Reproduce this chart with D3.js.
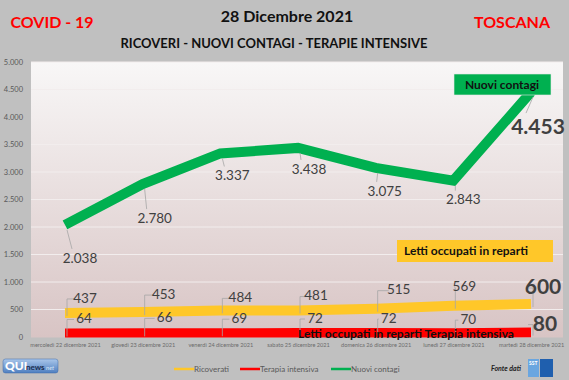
<!DOCTYPE html>
<html><head><meta charset="utf-8">
<script src="https://cdn.jsdelivr.net/npm/d3@7"></script>
<style>
html,body{margin:0;padding:0;background:#c0c0c0;}
svg{display:block;font-family:Lato,"Open Sans",sans-serif;}
</style></head>
<body><svg id="c" width="569" height="380"></svg>
<script>
const categories = ["mercoledì 22 dicembre 2021","giovedì 23 dicembre 2021","venerdì 24 dicembre 2021","sabato 25 dicembre 2021","domenica 26 dicembre 2021","lunedì 27 dicembre 2021","martedì 28 dicembre 2021"];
const ricoverati = [437,453,484,481,515,569,600];
const terapia = [64,66,69,72,72,70,80];
const contagi = [2038,2780,3337,3438,3075,2843,4453];
const yTicks = [0,500,1000,1500,2000,2500,3000,3500,4000,4500,5000];
const legendNames = ["Ricoverati","Terapia intensiva","Nuovi contagi"];

// label layout offsets (dx, dy) from each point
const contagiOff = [[15,33],[12,34],[12,22],[11,21],[9,23],[10,19],[7,35]];
const ricovOff = [[20,-15],[21,-18],[20,-13],[18,-15],[23,-19],[11,-19],[12,-17]];
const terapiaOff = [[19,-15],[22,-16],[19,-15],[17,-15],[13,-15],[15,-14],[14,-9]];

const svg = d3.select("#c");
const W=569,H=380;
const plot = {l:31,t:62,r:563,b:337.5};
const x = d3.scalePoint().domain(categories).range([65,531]);
const y = d3.scaleLinear().domain([0,5000]).range([337,62]);
const fmt = v => d3.format(",")(v).replace(/,/g,".");

const defs = svg.append("defs");
const g = defs.append("linearGradient").attr("id","bg").attr("x1",0).attr("y1",0).attr("x2",0).attr("y2",1);
g.append("stop").attr("offset","0%").attr("stop-color","#f8f7f7");
g.append("stop").attr("offset","100%").attr("stop-color","#d8c4c4");
defs.append("clipPath").attr("id","clip").append("rect").attr("x",plot.l).attr("y",plot.t).attr("width",plot.r-plot.l).attr("height",plot.b-plot.t);
const lg = defs.append("linearGradient").attr("id","logo").attr("x1",0).attr("y1",0).attr("x2",0).attr("y2",1);
lg.append("stop").attr("offset","0%").attr("stop-color","#a9c6ea");
lg.append("stop").attr("offset","100%").attr("stop-color","#4f7fc0");

svg.append("rect").attr("width",W).attr("height",H).attr("fill","#c0c0c0");
svg.append("rect").attr("x",plot.l).attr("y",plot.t).attr("width",plot.r-plot.l).attr("height",plot.b-plot.t).attr("fill","url(#bg)");

// gridlines
svg.append("g").selectAll("line").data(yTicks.slice(1)).join("line")
  .attr("x1",plot.l).attr("x2",plot.r).attr("y1",d=>y(d)).attr("y2",d=>y(d))
  .attr("stroke","#f2eded").attr("stroke-width",1);

// y axis
const ya = svg.append("g").attr("transform","translate(23,0)")
  .call(d3.axisLeft(y).tickValues(yTicks).tickFormat(fmt).tickSize(0).tickPadding(0));
ya.select(".domain").remove();
ya.selectAll("text").attr("fill","#595959").attr("font-size","7.5px").attr("font-family","Lato,sans-serif");

// x axis
const xa = svg.append("g").attr("transform","translate(0,344)")
  .call(d3.axisBottom(x).tickSize(0).tickPadding(0));
xa.select(".domain").remove();
xa.selectAll("text").attr("fill","#6b6b6b").attr("font-size","5.6px").attr("font-family","Lato,sans-serif").attr("dy","0.5em");

// titles
svg.append("text").attr("x",52).attr("y",28).attr("text-anchor","middle").attr("fill","#ff0000").attr("font-weight","bold").attr("font-size","16px").text("COVID - 19");
svg.append("text").attr("x",287).attr("y",22).attr("text-anchor","middle").attr("fill","#111").attr("font-weight","bold").attr("font-size","16px").text("28 Dicembre 2021");
svg.append("text").attr("x",512).attr("y",28).attr("text-anchor","middle").attr("fill","#ff0000").attr("font-weight","bold").attr("font-size","16px").text("TOSCANA");
svg.append("text").attr("x",274).attr("y",48).attr("text-anchor","middle").attr("fill","#111").attr("font-weight","bold").attr("font-size","13px").text("RICOVERI - NUOVI CONTAGI - TERAPIE INTENSIVE");

const line = d3.line().x((d,i)=>x(categories[i])).y(d=>y(d));
const series = [
  {vals:ricoverati,color:"#ffc729",off:ricovOff,kind:"up"},
  {vals:terapia,color:"#ff0000",off:terapiaOff,kind:"up"},
  {vals:contagi,color:"#00b050",off:contagiOff,kind:"down"}
];
const lines = svg.append("g").attr("clip-path","url(#clip)");
series.forEach(s=>{
  lines.append("path").datum(s.vals).attr("d",line).attr("fill","none")
    .attr("stroke",s.color).attr("stroke-width",10).attr("stroke-linejoin","miter").attr("stroke-linecap","butt");
});

// data labels with leader lines
const labG = svg.append("g");
series.forEach(s=>{
  s.vals.forEach((v,i)=>{
    const px=x(categories[i]), py=y(v);
    const [dx,dy]=s.off[i];
    const last = i===s.vals.length-1;
    const lx=px+dx, ly=py+dy;
    let d;
    if (s.kind==="down") {
      d = `M${px+2},${py+5}L${lx-(last?12:8)},${ly-(last?14:9)}`;
    } else {
      const hx = lx-(last?17:10);
      d = `M${px+2},${py+3}L${px+2},${ly+1}L${hx},${ly+1}`;
    }
    labG.append("path").attr("d",d).attr("stroke","#a6a6a6").attr("stroke-width",0.8).attr("fill","none");
    labG.append("text").attr("x",lx).attr("y",ly).attr("dy","0.35em").attr("text-anchor","middle")
      .attr("fill","#404040").attr("font-size",last?"21px":"13.5px").attr("font-weight",last?"bold":"normal")
      .text(fmt(v));
  });
});

// annotation boxes
svg.append("rect").attr("x",454).attr("y",74).attr("width",97).attr("height",21).attr("fill","#00b050").attr("stroke","#e6e6e6").attr("stroke-width",0.6);
svg.append("text").attr("x",502).attr("y",85).attr("dy","0.35em").attr("text-anchor","middle").attr("font-weight","bold").attr("font-size","12px").attr("fill","#111").text("Nuovi contagi");
svg.append("rect").attr("x",397).attr("y",240).attr("width",156).attr("height",22).attr("fill","#ffc729");
svg.append("text").attr("x",404).attr("y",251).attr("dy","0.35em").attr("font-weight","bold").attr("font-size","12px").attr("fill","#111").text("Letti occupati in reparti");
svg.append("text").attr("x",406).attr("y",333.5).attr("dy","0.35em").attr("text-anchor","middle").attr("font-weight","bold").attr("font-size","12px").attr("fill","#111").text("Letti occupati in reparti Terapia intensiva");

// legend
const legX=[174,240,331];
legendNames.forEach((n,i)=>{
  svg.append("line").attr("x1",legX[i]).attr("x2",legX[i]+20).attr("y1",369).attr("y2",369).attr("stroke",series[i].color).attr("stroke-width",2.5);
  svg.append("text").attr("x",legX[i]+20).attr("y",369).attr("dy","0.35em").attr("font-size","8px").attr("fill","#595959").text(n);
});

// logo QUInews
svg.append("rect").attr("x",3).attr("y",359).attr("width",55).attr("height",14).attr("rx",2.5).attr("fill","url(#logo)").attr("stroke","#3d6aa8").attr("stroke-width",0.5);
svg.append("text").attr("x",5).attr("y",370).attr("font-weight","900").attr("font-size","12px").attr("fill","#fff").text("QUI");
svg.append("text").attr("x",26).attr("y",370).attr("font-weight","bold").attr("font-size","8px").attr("fill","#1c2e4e").text("news");
svg.append("text").attr("x",46).attr("y",370).attr("font-style","italic").attr("font-size","6px").attr("fill","#d8e6f8").text("net");

// fonte dati
svg.append("text").attr("x",491).attr("y",371).attr("font-style","italic").attr("font-weight","bold").attr("font-size","7px").attr("fill","#222").text("Fonte dati");
svg.append("rect").attr("x",528).attr("y",359).attr("width",11).attr("height",18).attr("fill","#6aa6e0");
svg.append("rect").attr("x",540).attr("y",359).attr("width",13).attr("height",18).attr("fill","#1f5fae");
svg.append("text").attr("x",529).attr("y",365).attr("font-size","5px").attr("font-weight","bold").attr("fill","#fff").text("SST");
</script>
</body></html>
